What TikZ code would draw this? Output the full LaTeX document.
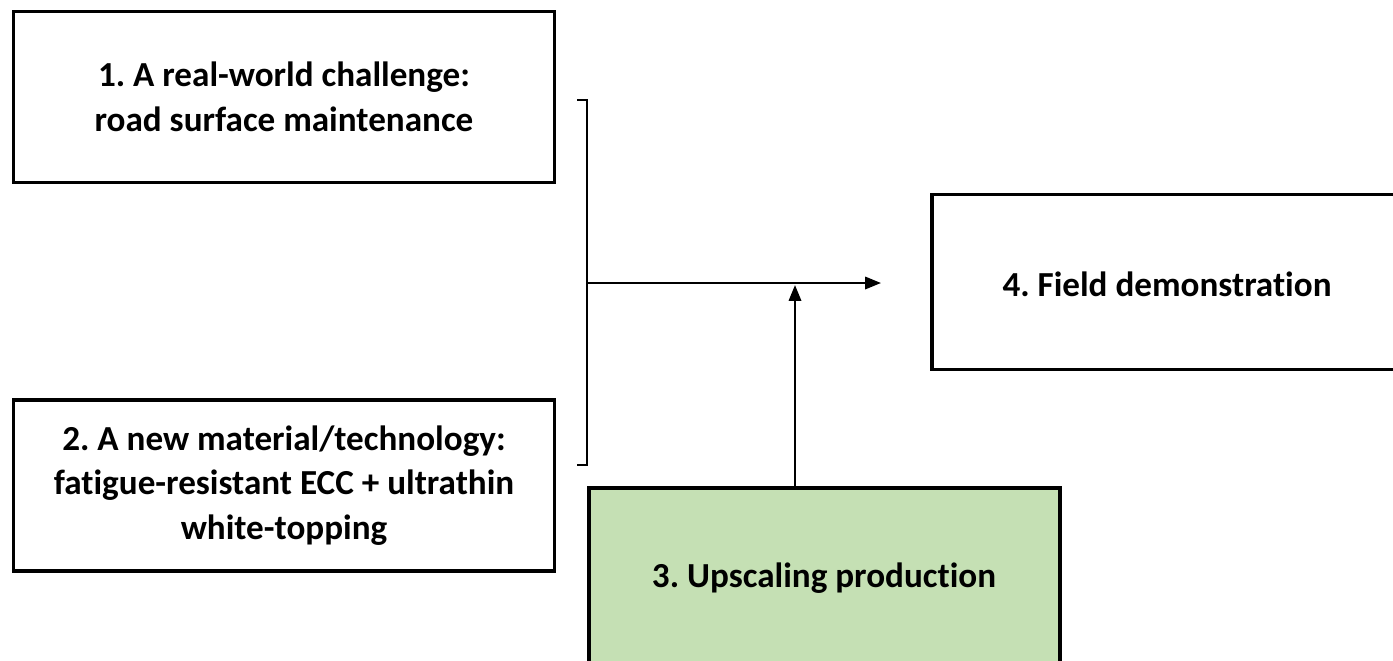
\documentclass[tikz,border=0pt]{standalone}
\usepackage{fontspec}
\setmainfont[Ligatures={NoCommon}]{Carlito}
\usetikzlibrary{arrows.meta}
\frenchspacing
\begin{document}
\begin{tikzpicture}[x=0.02cm,y=-0.02cm,
  lbl/.style={align=center,font=\bfseries\fontsize{20}{25.5}\selectfont,inner sep=0pt},
  box/.style={lbl,draw=black,line width=1.8pt,minimum width=541*0.02cm,minimum height=171*0.02cm},
  conn/.style={draw=black,line width=1.3pt},
  arr/.style={conn,-{Triangle[length=9pt,width=7pt]}}]
\useasboundingbox (0,0) rectangle (1393,660);
\clip (0,0) rectangle (1393,660);
\node[box] (b1) at (284,97) {1. A real-world challenge:\\road surface maintenance};
\node[box] (b2) at (284,485.5) {2. A new material/technology:\\fatigue-resistant ECC + ultrathin\\white-topping};
\node[box,minimum width=471*0.02cm,minimum height=175*0.02cm] (b4) at (1167.5,282) {};
\node[lbl] (t4) at (1167,284) {4. Field demonstration};
\node[box,fill={rgb,255:red,197;green,224;blue,180},minimum width=471*0.02cm,minimum height=200*0.02cm] (b3) at (824.5,588) {};
\node[lbl] (t3) at (824,578) {3. Upscaling production};
\coordinate (bt) at (587,100);
\coordinate (bb) at (587,465);
\coordinate (bm) at (587,283);
\coordinate (tip) at (881,283);
\draw[conn] (577,100) -- (bt) -- (bb) -- (577,465);
\draw[arr] (bm) -- (tip);
\draw[arr] (b3.north -| 795,0) -- (795,285);
\end{tikzpicture}
\end{document}
